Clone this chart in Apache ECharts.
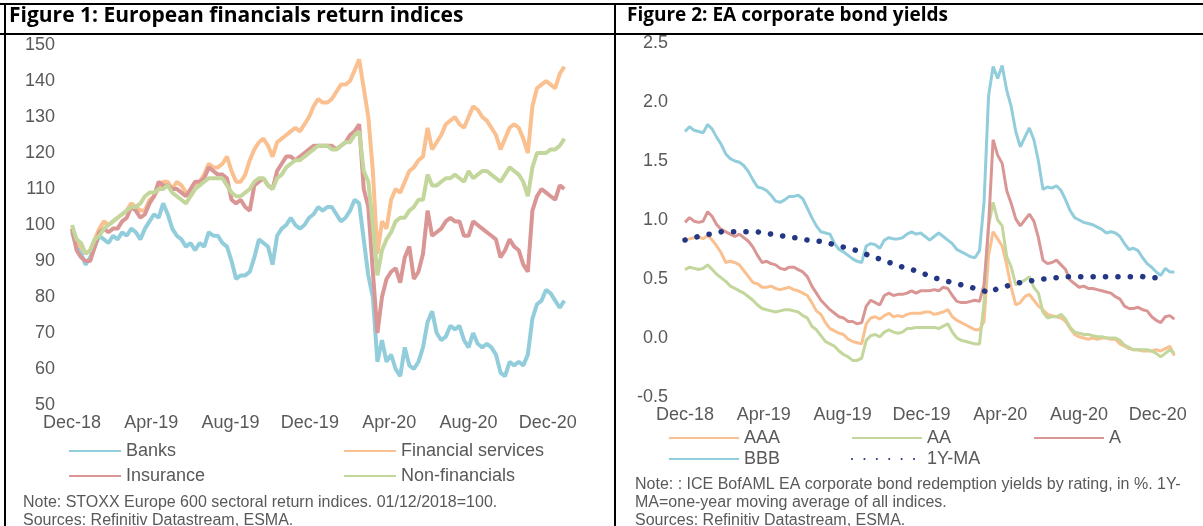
<!DOCTYPE html>
<html>
<head>
<meta charset="utf-8">
<script src="https://cdn.jsdelivr.net/npm/echarts@6/dist/echarts.min.js"></script>
<style>
  html, body { margin: 0; padding: 0; background: #fff; }
  #chart { width: 1203px; height: 526px; }
</style>
</head>
<body>
<div id="chart"></div>
<script>
// weekly observations, x in months after 1 Dec 2018
const weeks = Array.from({ length: 109 }, (_, i) => i * 7 / 30.44);
const monthLabels = ['Dec-18', 'Apr-19', 'Aug-19', 'Dec-19', 'Apr-20', 'Aug-20', 'Dec-20'];

// Figure 1: return indices, 01/12/2018 = 100
const banks = [98,94,92,89,91,94,97,96,95,97,96,98,97,99,98,96,99,101,103,102,
  106,103,99,97,96,94,95,93,95,94,98,97,97,95,94,90,85,86,86,87,
  91,96,95,94,89,97,99,100,102,100,99,100,102,103,105,104,105,105,103,101,
  102,104,107,106,96,86,80,62,68,62,64,60,58,66,61,60,62,66,73,76,
  70,68,69,72,71,72,68,66,70,67,66,67,66,64,59,58,62,61,62,61,
  64,74,78,79,82,81,79,77,79];
const finServices = [99,95,94,92,93,96,99,101,100,101,102,103,104,106,105,104,104,107,108,110,
  112,112,110,112,111,109,108,110,112,114,117,116,116,117,119,115,112,112,114,118,
  121,123,124,122,119,123,124,125,126,127,126,128,130,133,135,134,134,135,137,139,
  139,140,143,146,138,130,115,92,101,99,107,110,109,112,115,116,118,119,127,121,
  123,125,128,129,130,128,127,130,133,132,130,129,127,125,121,124,127,128,127,124,
  120,133,138,139,140,139,138,142,144];
const insurance = [99,93,91,90,90,94,98,99,98,99,99,101,102,105,104,102,103,106,108,112,
  111,111,110,110,109,108,110,112,112,113,116,115,114,114,113,107,106,107,105,104,
  111,112,113,111,110,115,117,119,119,118,119,120,121,122,122,122,122,122,121,122,
  123,125,126,128,110,105,87,70,80,85,87,88,84,91,94,85,87,92,104,97,
  98,99,101,102,101,101,97,97,101,100,99,98,97,96,91,93,96,94,93,89,
  87,104,108,110,109,108,107,111,110];
const nonFinancials = [100,96,95,92,93,96,97,99,100,101,102,103,104,105,105,106,108,109,109,110,
  110,111,109,108,107,106,108,110,111,112,113,113,113,113,111,109,108,108,109,110,
  112,113,113,111,110,113,114,116,117,118,118,119,120,121,122,122,122,121,121,122,
  123,123,125,126,115,112,100,86,93,96,98,101,102,102,104,105,107,107,114,111,
  111,112,113,113,114,113,112,115,113,114,115,115,114,113,112,114,116,115,114,112,
  108,116,120,120,120,121,121,122,124];

// Figure 2: redemption yields by rating, %
const aaa = [0.83,0.84,0.85,0.86,0.84,0.87,0.83,0.78,0.72,0.64,0.65,0.64,0.62,0.57,0.52,0.47,0.46,0.43,0.43,0.44,
  0.42,0.41,0.42,0.43,0.41,0.40,0.38,0.36,0.30,0.23,0.20,0.13,0.08,0.06,0.04,0.03,-0.01,-0.03,-0.04,-0.05,
  0.12,0.17,0.18,0.16,0.19,0.21,0.18,0.19,0.18,0.20,0.21,0.21,0.21,0.22,0.22,0.20,0.21,0.22,0.24,0.18,
  0.15,0.13,0.11,0.09,0.07,0.07,0.14,0.70,0.90,0.84,0.78,0.62,0.43,0.28,0.30,0.35,0.37,0.32,0.27,0.24,
  0.20,0.19,0.18,0.17,0.14,0.08,0.03,0.01,0.00,-0.01,0.00,-0.01,0.00,0.00,-0.01,-0.01,-0.05,-0.07,-0.09,-0.10,
  -0.10,-0.11,-0.11,-0.11,-0.10,-0.11,-0.09,-0.07,-0.15];
const aa = [0.58,0.60,0.59,0.58,0.59,0.62,0.58,0.54,0.51,0.48,0.44,0.42,0.40,0.38,0.35,0.32,0.28,0.25,0.24,0.23,
  0.22,0.23,0.24,0.24,0.23,0.22,0.19,0.17,0.10,0.07,0.02,-0.03,-0.05,-0.07,-0.11,-0.14,-0.16,-0.19,-0.19,-0.17,
  -0.02,0.02,0.03,0.01,0.05,0.07,0.05,0.04,0.05,0.08,0.08,0.09,0.09,0.09,0.09,0.09,0.08,0.10,0.12,0.05,
  0.00,-0.02,-0.03,-0.04,-0.05,-0.05,0.30,0.95,1.15,1.00,0.95,0.69,0.60,0.45,0.47,0.49,0.52,0.43,0.38,0.22,
  0.17,0.18,0.18,0.20,0.16,0.09,0.05,0.04,0.03,0.03,0.02,0.01,0.01,0.00,0.00,0.00,-0.02,-0.06,-0.08,-0.10,
  -0.10,-0.10,-0.10,-0.11,-0.13,-0.16,-0.13,-0.10,-0.13];
const singleA = [0.98,1.02,0.99,0.98,0.99,1.07,1.03,0.96,0.92,0.90,0.88,0.86,0.88,0.85,0.82,0.77,0.70,0.64,0.65,0.63,
  0.62,0.59,0.58,0.60,0.60,0.58,0.56,0.52,0.44,0.38,0.32,0.28,0.24,0.21,0.18,0.17,0.14,0.14,0.12,0.13,
  0.27,0.32,0.30,0.28,0.36,0.38,0.36,0.37,0.37,0.38,0.40,0.38,0.40,0.40,0.40,0.41,0.40,0.43,0.42,0.36,
  0.31,0.30,0.30,0.31,0.32,0.31,0.45,0.95,1.68,1.55,1.48,1.25,1.14,1.01,0.95,1.00,1.05,0.99,0.85,0.66,
  0.63,0.64,0.66,0.62,0.58,0.49,0.46,0.43,0.44,0.42,0.42,0.41,0.40,0.39,0.38,0.35,0.33,0.27,0.25,0.25,
  0.26,0.24,0.23,0.18,0.15,0.13,0.18,0.19,0.16];
const bbb = [1.75,1.79,1.76,1.75,1.74,1.81,1.77,1.70,1.64,1.56,1.52,1.50,1.49,1.46,1.41,1.34,1.28,1.27,1.25,1.21,
  1.16,1.15,1.17,1.20,1.20,1.21,1.18,1.10,1.02,0.95,0.90,0.89,0.88,0.80,0.75,0.73,0.70,0.67,0.65,0.64,
  0.78,0.80,0.79,0.76,0.83,0.85,0.84,0.84,0.85,0.88,0.90,0.88,0.89,0.86,0.83,0.86,0.89,0.86,0.83,0.80,
  0.75,0.73,0.71,0.69,0.68,0.74,1.15,2.05,2.30,2.20,2.31,2.10,1.96,1.75,1.62,1.70,1.78,1.68,1.50,1.26,
  1.28,1.27,1.29,1.25,1.17,1.08,1.02,1.00,0.98,0.97,0.96,0.94,0.92,0.89,0.90,0.89,0.86,0.80,0.75,0.76,
  0.74,0.68,0.63,0.60,0.56,0.53,0.59,0.56,0.56];
const movingAvg = [0.83,0.84,0.85,0.86,0.87,0.88,0.88,0.89,0.90,0.90,0.90,0.90,0.90,0.90,0.90,0.90,0.90,0.89,0.89,0.88,
  0.88,0.87,0.86,0.86,0.85,0.85,0.84,0.83,0.83,0.82,0.82,0.81,0.80,0.79,0.78,0.77,0.76,0.75,0.74,0.72,
  0.71,0.69,0.68,0.67,0.65,0.64,0.63,0.62,0.60,0.59,0.58,0.57,0.55,0.54,0.52,0.51,0.50,0.49,0.48,0.47,
  0.46,0.45,0.44,0.43,0.42,0.41,0.40,0.38,0.40,0.42,0.43,0.44,0.45,0.46,0.47,0.48,0.48,0.49,0.49,0.50,
  0.50,0.51,0.51,0.51,0.52,0.52,0.52,0.52,0.52,0.52,0.52,0.52,0.52,0.52,0.52,0.52,0.52,0.52,0.52,0.52,
  0.52,0.52,0.51,0.51,0.51,0.50,0.49,null,null];

const FONT = '"Liberation Sans", Arial, sans-serif';
const GREY = '#595959';
const C = { blue: '#92CDDC', orange: '#FAC090', red: '#D99694', green: '#C3D69B', navy: '#233785' };

const pairs = arr => arr.map((v, i) => [weeks[i], v]);

function xAxisFor(idx) {
  return {
    type: 'value', gridIndex: idx, min: 0, max: 24.87, interval: 4,
    axisLine: { show: false }, axisTick: { show: false }, splitLine: { show: false },
    axisLabel: {
      color: GREY, fontFamily: FONT, fontSize: 18, margin: 9, showMaxLabel: false,
      formatter: v => (v % 4 === 0 ? monthLabels[v / 4] : '')
    }
  };
}

function line(name, data, color, idx, width) {
  return {
    name, type: 'line', xAxisIndex: idx, yAxisIndex: idx, data: pairs(data),
    symbol: 'none', lineStyle: { color, width }, itemStyle: { color }, animation: false
  };
}

function legendItem(name, left, top, iw) {
  return {
    data: [name], left, top, padding: 0, itemWidth: iw, itemHeight: 14, itemGap: 7,
    selectedMode: false, itemStyle: { opacity: 0 },
    textStyle: { color: GREY, fontFamily: FONT, fontSize: 18 }
  };
}

const chart = echarts.init(document.getElementById('chart'));
chart.setOption({
  animation: false,
  grid: [
    { left: 72, top: 45, width: 493, height: 360 },
    { left: 685, top: 43, width: 490, height: 354 }
  ],
  xAxis: [xAxisFor(0), xAxisFor(1)],
  yAxis: [
    { type: 'value', gridIndex: 0, min: 50, max: 150, interval: 10,
      axisLine: { show: false }, axisTick: { show: false }, splitLine: { show: false },
      axisLabel: { color: GREY, fontFamily: FONT, fontSize: 18, margin: 17 } },
    { type: 'value', gridIndex: 1, min: -0.5, max: 2.5, interval: 0.5,
      axisLine: { show: false }, axisTick: { show: false }, splitLine: { show: false },
      axisLabel: { color: GREY, fontFamily: FONT, fontSize: 18, margin: 17, formatter: v => v.toFixed(1) } }
  ],
  legend: [
    legendItem('Banks', 68, 442, 52),
    legendItem('Financial services', 343, 442, 52),
    legendItem('Insurance', 68, 467, 52),
    legendItem('Non-financials', 343, 467, 52),
    legendItem('AAA', 668, 429, 70),
    legendItem('AA', 851, 429, 70),
    legendItem('A', 1033, 429, 70),
    legendItem('BBB', 668, 450, 70),
    legendItem('1Y-MA', 851, 450, 70)
  ],
  series: [
    line('Banks', banks, C.blue, 0, 4),
    line('Financial services', finServices, C.orange, 0, 4),
    line('Insurance', insurance, C.red, 0, 4),
    line('Non-financials', nonFinancials, C.green, 0, 4),
    line('AAA', aaa, C.orange, 1, 3),
    line('AA', aa, C.green, 1, 3),
    line('A', singleA, C.red, 1, 3),
    line('BBB', bbb, C.blue, 1, 3),
    Object.assign(line('1Y-MA', movingAvg, C.navy, 1, 5.5), {
      lineStyle: { color: C.navy, width: 5.5, type: [0.1, 12.3], cap: 'round' }
    })
  ],
  graphic: [
    { type: 'line', shape: { x1: 0, y1: 4, x2: 1203, y2: 4 }, style: { stroke: '#000', lineWidth: 2 } },
    { type: 'line', shape: { x1: 0, y1: 34, x2: 1203, y2: 34 }, style: { stroke: '#000', lineWidth: 2 } },
    { type: 'line', shape: { x1: 5, y1: 3, x2: 5, y2: 526 }, style: { stroke: '#000', lineWidth: 2 } },
    { type: 'line', shape: { x1: 615, y1: 3, x2: 615, y2: 526 }, style: { stroke: '#000', lineWidth: 2 } },
    { type: 'text', left: 9, top: 6, style: { text: 'Figure 1: European financials return indices',
      font: 'bold 21px "Open Sans", sans-serif', fill: '#000' } },
    { type: 'text', left: 627, top: 6, style: { text: 'Figure 2: EA corporate bond yields',
      font: 'bold 19px "Open Sans", sans-serif', fill: '#000' } },
    { type: 'text', left: 23, top: 494, style: {
      text: 'Note: STOXX Europe 600 sectoral return indices. 01/12/2018=100.\nSources: Refinitiv Datastream, ESMA.',
      font: '16px "Liberation Sans", Arial, sans-serif', fill: GREY, lineHeight: 18 } },
    { type: 'text', left: 635, top: 476, style: {
      text: 'Note: : ICE BofAML EA corporate bond redemption yields by rating, in %. 1Y-\nMA=one-year moving average of all indices.\nSources: Refinitiv Datastream, ESMA.',
      font: '16px "Liberation Sans", Arial, sans-serif', fill: GREY, lineHeight: 18 } }
  ]
});
</script>
</body>
</html>
